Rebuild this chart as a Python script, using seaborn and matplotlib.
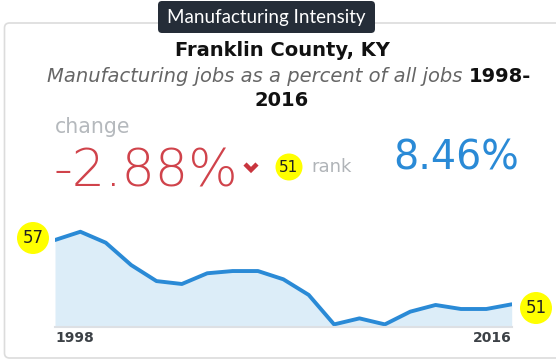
import matplotlib
matplotlib.use("Agg")
import matplotlib.pyplot as plt
import seaborn as sns
import pandas as pd
from matplotlib.patches import FancyBboxPatch, Circle
from matplotlib.lines import Line2D
from matplotlib.transforms import IdentityTransform

years = list(range(1998, 2017))
share = [11.34, 11.71, 11.22, 10.22, 9.50, 9.37, 9.85, 9.95, 9.95, 9.58,
         8.88, 7.56, 7.83, 7.56, 8.13, 8.43, 8.25, 8.25, 8.46]
tick_labels = ["1998", "2016"]
change_text = "-2.88%"
current_text = "8.46%"
rank_start = "57"
rank_end = "51"
rank_now = "51"

W, H = 556, 362
sns.set_theme(style="white")
plt.rcParams['font.family'] = ['DejaVu Sans']
fig = plt.figure(figsize=(W / 100, H / 100), dpi=100)
fig.patch.set_facecolor("white")

def fx(x):
    return x / W

def fy(y):
    return 1 - y / H

ident = IdentityTransform()

# card
card = FancyBboxPatch((4.5, H - 358), 600, 335, boxstyle="round,pad=0,rounding_size=5",
                      transform=ident, facecolor="white", edgecolor="#dcdcdc", lw=1.2,
                      zorder=-10)
fig.patches.append(card)

# header tag
tag = FancyBboxPatch((158, H - 33), 217, 32, boxstyle="round,pad=0,rounding_size=4",
                     transform=ident, facecolor="#252d38", edgecolor="none", zorder=-5)
fig.patches.append(tag)
fig.text(fx(266.5), fy(17), "Manufacturing Intensity", color="white", fontsize=13.5,
         family=["Lato", "DejaVu Sans"], ha="center", va="center")

fig.text(fx(282), fy(50), "Franklin County, KY", fontsize=14, fontweight="bold",
         ha="center", va="center", color="#111111")
fig.text(fx(462), fy(76), "Manufacturing jobs as a percent of all jobs", fontsize=14,
         style="italic", ha="right", va="center", color="#666666")
fig.text(fx(469), fy(76), "1998-", fontsize=14, fontweight="bold",
         ha="left", va="center", color="#111111")
fig.text(fx(282), fy(100), "2016", fontsize=14, fontweight="bold",
         ha="center", va="center", color="#111111")

fig.text(fx(55), fy(127), "change", fontsize=14.8, color="#b5b9bd", ha="left", va="center")
fig.text(fx(53), fy(172), change_text, fontsize=37.5, fontweight="light", color="#d0434b",
         ha="left", va="center")
chev = Line2D([245, 251, 257], [H - 164, H - 170, H - 164], transform=ident,
              color="#c9353e", lw=3.2, solid_joinstyle="miter", solid_capstyle="butt")
fig.lines.append(chev)

fig.patches.append(Circle((289, H - 167), 13.5, transform=ident, facecolor="#ffff00",
                          edgecolor="none"))
fig.text(fx(289), fy(167), rank_now, fontsize=11, color="#222222", ha="center", va="center")
fig.text(fx(311), fy(167), "rank", fontsize=13, color="#b0b4b8", ha="left", va="center")

fig.text(fx(456), fy(158), current_text, fontsize=28.5, color="#2a8ad6",
         ha="center", va="center")

# chart
ax_left, ax_right, ax_top, ax_bottom = 55, 511.7, 220, 326.7
ax = fig.add_axes([fx(ax_left), fy(ax_bottom), fx(ax_right - ax_left),
                   (ax_bottom - ax_top) / H])
df = pd.DataFrame({"year": years, "share": share})
ymin = 7.457
ax.fill_between(df["year"], df["share"], ymin, color="#dcedf8", lw=0)
sns.lineplot(data=df, x="year", y="share", ax=ax, color="#2a8ad6", lw=2.8)
ax.set_xlim(years[0], years[-1])
ax.set_ylim(ymin, 12.236)
ax.set_xticks([years[0], years[-1]])
ax.set_xticklabels(tick_labels)
ax.set_yticks([])
ax.set_xlabel("")
ax.set_ylabel("")
for s in ["top", "left", "right"]:
    ax.spines[s].set_visible(False)
ax.spines["bottom"].set_color("#dde0e4")
ax.spines["bottom"].set_linewidth(1.5)
ax.tick_params(axis="x", length=0, pad=3, labelsize=10, labelcolor="#3c4146")
labs = ax.get_xticklabels()
for lab in labs:
    lab.set_fontweight("bold")
labs[0].set_ha("left")
labs[-1].set_ha("right")
ax.patch.set_alpha(0)

fig.patches.append(Circle((33, H - 238), 16, transform=ident, facecolor="#ffff00",
                          edgecolor="none"))
fig.text(fx(33), fy(238), rank_start, fontsize=12, color="#222222", ha="center", va="center")
fig.patches.append(Circle((536, H - 308), 16, transform=ident, facecolor="#ffff00",
                          edgecolor="none"))
fig.text(fx(536), fy(308), rank_end, fontsize=12, color="#222222", ha="center", va="center")

fig.savefig("out.png", dpi=100, facecolor="white")
